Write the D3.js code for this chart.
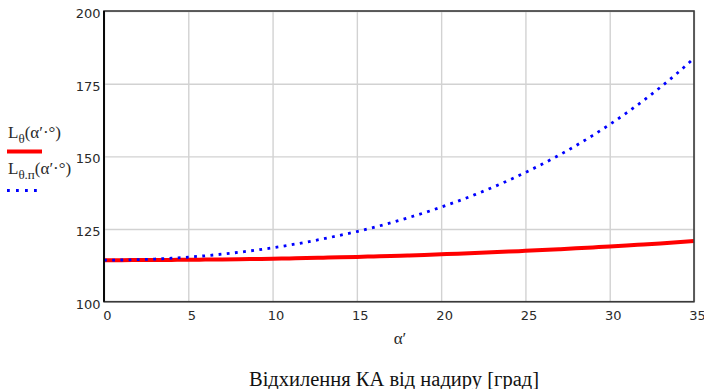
<!DOCTYPE html>
<html>
<head>
<meta charset="utf-8">
<script src="https://cdn.jsdelivr.net/npm/d3@7"></script>
<style>
  body { margin: 0; background: #fff; }
  svg { display: block; }
</style>
</head>
<body>
<svg id="chart" width="704" height="389"></svg>
<script>
// angle of deviation, degrees
var angles = d3.range(0, 36);
// L_theta(alpha') - red solid line
var lTheta = [114.30, 114.30, 114.32, 114.34, 114.38, 114.42, 114.48, 114.54, 114.61, 114.70,
              114.79, 114.90, 115.01, 115.14, 115.27, 115.41, 115.57, 115.73, 115.91, 116.10,
              116.31, 116.52, 116.74, 116.98, 117.23, 117.49, 117.76, 118.05, 118.35, 118.67,
              118.99, 119.33, 119.69, 120.06, 120.45, 120.87];
// L_theta.п(alpha') - blue dotted line
var lThetaP = [114.30, 114.34, 114.47, 114.67, 114.96, 115.34, 115.80, 116.36, 116.99, 117.73,
               118.55, 119.47, 120.50, 121.62, 122.85, 124.13, 125.57, 127.12, 128.80, 130.60,
               132.54, 134.61, 136.83, 139.21, 141.74, 144.45, 147.34, 150.42, 153.71, 157.22,
               160.96, 164.95, 169.20, 173.73, 178.58, 183.75];
var xTicks = [0, 5, 10, 15, 20, 25, 30, 35];
var yTicks = [100, 125, 150, 175, 200];

var svg = d3.select("#chart"),
    pLeft = 104, pRight = 694, pTop = 11, pBottom = 301.7;

var x = d3.scaleLinear().domain([0, 35]).range([pLeft, pRight]);
var y = d3.scaleLinear().domain([100, 200]).range([pBottom, pTop]);

// grid
svg.append("g")
    .attr("transform", "translate(0," + pBottom + ")")
    .call(d3.axisBottom(x).tickValues(xTicks).tickSize(-(pBottom - pTop)).tickFormat(""))
    .call(function(g) { g.select(".domain").remove(); })
    .selectAll("line").attr("stroke", "#d2d2d2").attr("stroke-width", 1.4);

svg.append("g")
    .attr("transform", "translate(" + pLeft + ",0)")
    .call(d3.axisLeft(y).tickValues(yTicks).tickSize(-(pRight - pLeft)).tickFormat(""))
    .call(function(g) { g.select(".domain").remove(); })
    .selectAll("line").attr("stroke", "#d2d2d2").attr("stroke-width", 1.4);

// tick labels
svg.append("g").selectAll("text")
    .data(xTicks).enter().append("text")
    .attr("x", function(d) { return x(d) + 3.5; })
    .attr("y", 320)
    .attr("text-anchor", "middle")
    .attr("font-family", "DejaVu Sans, sans-serif")
    .attr("font-size", 13)
    .attr("fill", "#2a2a2a")
    .text(function(d) { return d; });

svg.append("g").selectAll("text")
    .data(yTicks).enter().append("text")
    .attr("x", 100.5)
    .attr("y", function(d) { return y(d) + 7; })
    .attr("text-anchor", "end")
    .attr("font-family", "DejaVu Sans, sans-serif")
    .attr("font-size", 13)
    .attr("fill", "#2a2a2a")
    .text(function(d) { return d; });

// lines
var line = d3.line()
    .x(function(d, i) { return x(angles[i]); })
    .y(function(d) { return y(d); })
    .curve(d3.curveMonotoneX);

svg.append("path")
    .datum(lTheta)
    .attr("d", line)
    .attr("fill", "none")
    .attr("stroke", "#ff0000")
    .attr("stroke-width", 4);

svg.append("path")
    .datum(lThetaP)
    .attr("d", line)
    .attr("fill", "none")
    .attr("stroke", "#0000ff")
    .attr("stroke-width", 2.8)
    .attr("stroke-dasharray", "2.8,5.4");

// frame
svg.append("rect")
    .attr("x", pLeft).attr("y", pTop)
    .attr("width", pRight - pLeft).attr("height", pBottom - pTop)
    .attr("fill", "none")
    .attr("stroke", "#3a3a3a")
    .attr("stroke-width", 1.6);
svg.append("line")
    .attr("x1", pLeft).attr("x2", pLeft).attr("y1", pTop).attr("y2", pBottom)
    .attr("stroke", "#000").attr("stroke-width", 1.8);

// legend
var leg = svg.append("g")
    .attr("font-family", "Liberation Serif, Times New Roman, serif")
    .attr("fill", "#2a2a2a");

var t1 = leg.append("text").attr("x", 8).attr("y", 138).attr("font-size", 17);
t1.append("tspan").text("L");
t1.append("tspan").attr("font-size", 13).attr("dy", 5).text("θ");
t1.append("tspan").attr("dy", -5).text("(α′·°)");

leg.append("line")
    .attr("x1", 7).attr("x2", 42).attr("y1", 151.5).attr("y2", 151.5)
    .attr("stroke", "#ff0000").attr("stroke-width", 4);

var t2 = leg.append("text").attr("x", 8).attr("y", 174).attr("font-size", 17);
t2.append("tspan").text("L");
t2.append("tspan").attr("font-size", 13).attr("dy", 5).text("θ.п");
t2.append("tspan").attr("dy", -5).text("(α′·°)");

leg.append("line")
    .attr("x1", 7).attr("x2", 37).attr("y1", 190.5).attr("y2", 190.5)
    .attr("stroke", "#0000ff").attr("stroke-width", 2.8)
    .attr("stroke-dasharray", "2.8,6.2");

// axis label and caption
svg.append("text")
    .attr("x", 400).attr("y", 344)
    .attr("text-anchor", "middle")
    .attr("font-family", "Liberation Serif, Times New Roman, serif")
    .attr("font-size", 17)
    .attr("fill", "#2a2a2a")
    .text("α′");

svg.append("text")
    .attr("x", 394).attr("y", 386)
    .attr("text-anchor", "middle")
    .attr("font-family", "Liberation Serif, Times New Roman, serif")
    .attr("font-size", 20.5)
    .attr("fill", "#111")
    .text("Відхилення КА від надиру [град]");
</script>
</body>
</html>
